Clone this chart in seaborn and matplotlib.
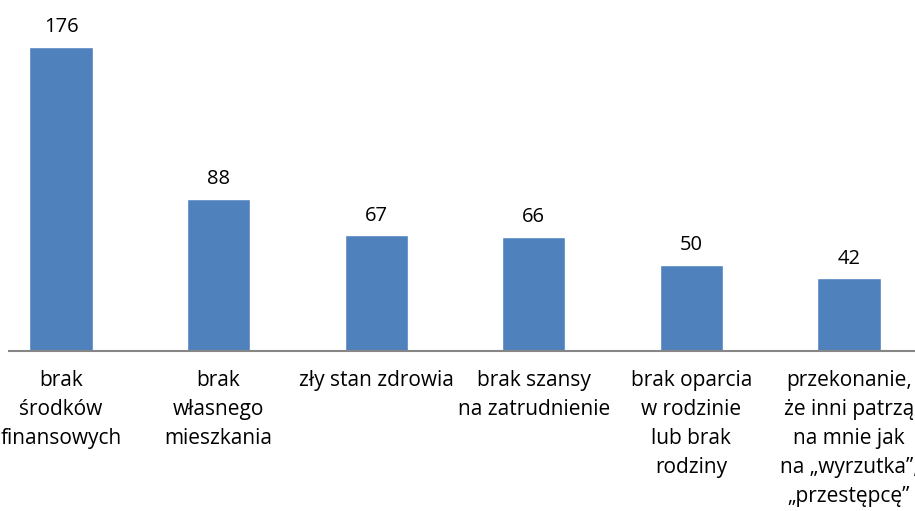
import matplotlib
matplotlib.use("Agg")
import matplotlib.pyplot as plt
import seaborn as sns
import pandas as pd

categories = [
    "brak\nśrodków\nfinansowych",
    "brak\nwłasnego\nmieszkania",
    "zły stan zdrowia",
    "brak szansy\nna zatrudnienie",
    "brak oparcia\nw rodzinie\nlub brak\nrodziny",
    "przekonanie,\nże inni patrzą\nna mnie jak\nna „wyrzutka”,\n„przestępcę”",
]
values = [176, 88, 67, 66, 50, 42]

sns.set_theme(style="white")
plt.rcParams['font.family'] = ['Open Sans', 'DejaVu Sans']

df = pd.DataFrame({"cat": categories, "val": values})

fig = plt.figure(figsize=(9.15, 5.11), dpi=100)
ax = fig.add_axes([9/915, (511-351)/511, 1 - 9/915, 351/511])
sns.barplot(data=df, x="cat", y="val", color="#4F81BD", saturation=1,
            width=0.4, ax=ax)
ax.set_xlim((9-61)/157.6, (915-61)/157.6)
ax.set_ylim(0, 351/1.727)

for i, v in enumerate(values):
    ax.annotate(str(v), (i, v), xytext=(0, 7), textcoords="offset points",
                ha="center", va="bottom", fontsize=14.5, color="black")

ax.set_xlabel("")
ax.set_ylabel("")
ax.set_yticks([])
ax.tick_params(axis="x", length=0, pad=14)
for lab in ax.get_xticklabels():
    lab.set_fontsize(15)
    lab.set_linespacing(1.5)
    lab.set_color("black")
for s in ["top", "right", "left"]:
    ax.spines[s].set_visible(False)
ax.spines["bottom"].set_color("#868686")
ax.spines["bottom"].set_linewidth(1.5)

fig.savefig("out.png", dpi=100)
